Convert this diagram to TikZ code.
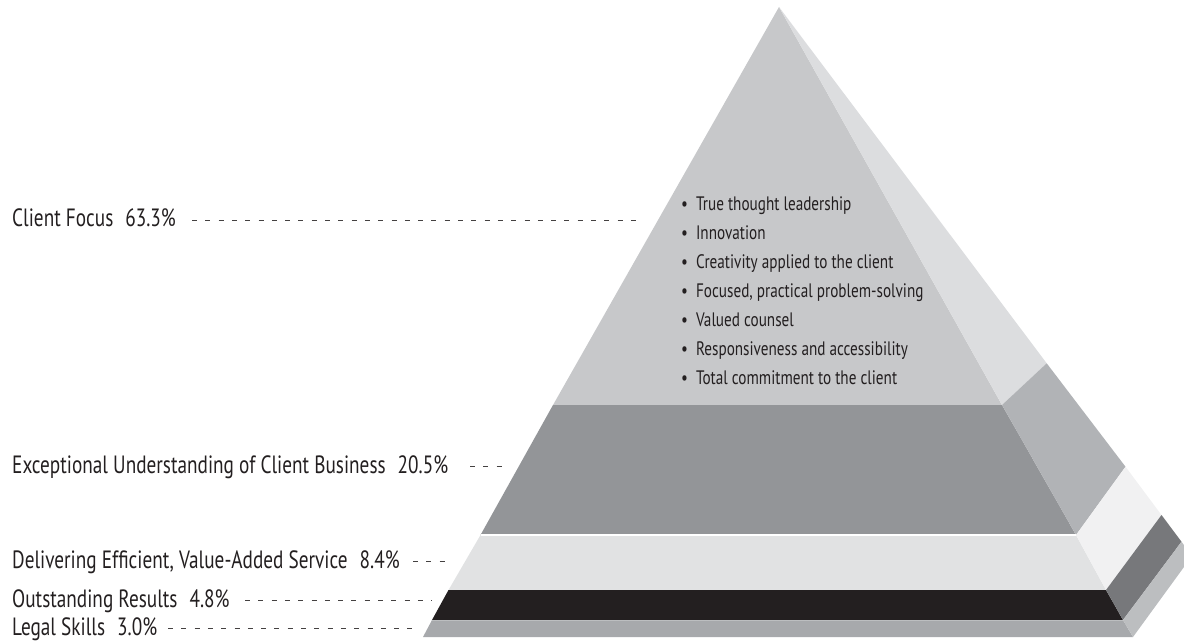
\documentclass[tikz,border=0pt]{standalone}
\usepackage{fontspec}
\setmainfont{PT Sans}
\newfontfamily\lblfont[FakeStretch=0.77]{PT Sans}
\newfontfamily\bulfont[FakeStretch=0.78]{PT Sans}
\definecolor{txt}{HTML}{231F20}
\definecolor{cfF}{HTML}{C7C8CA}
\definecolor{cfR}{HTML}{DCDDDF}
\definecolor{exF}{HTML}{939598}
\definecolor{exR}{HTML}{B1B3B6}
\definecolor{dvF}{HTML}{E1E2E3}
\definecolor{dvR}{HTML}{F1F1F2}
\definecolor{orF}{HTML}{231F20}
\definecolor{orR}{HTML}{77787B}
\definecolor{lsF}{HTML}{A7A9AC}
\definecolor{lsR}{HTML}{BCBEC0}
\tikzset{
  label/.style={anchor=base west, inner sep=0pt, text=txt, font=\lblfont\fontsize{25}{29}\selectfont},
  bullet/.style={anchor=base west, inner sep=0pt, text=txt, font=\bulfont\fontsize{19.5}{23}\selectfont},
  leader/.style={draw=txt!85, line width=0.8pt, dash pattern=on 5pt off 8.3pt},
  sep/.style={draw=white, line width=1.2pt}
}
\begin{document}
\begin{tikzpicture}[x=1pt,y=-1pt]
\useasboundingbox (0,0) rectangle (1184,642);
\clip (0,0) rectangle (1184,642);
% apex and edges
\coordinate (A) at (779,7);
\coordinate (L1) at (553,405);   \coordinate (F1) at (1002,405);   \coordinate (O1) at (1046.7,363.3);
\coordinate (L2) at (480.5,535); \coordinate (F2) at (1076,535);   \coordinate (O2) at (1125.5,466.7);
\coordinate (L3) at (448.5,590); \coordinate (F3) at (1106,590);   \coordinate (O3) at (1161.5,515);
\coordinate (L4) at (432,620);   \coordinate (F4) at (1123,620);   \coordinate (O4) at (1181.5,541.7);
\coordinate (L5) at (423,637);   \coordinate (F5) at (1133,637);   \coordinate (O5) at (1192,556);
% front faces
\fill[cfF] (A) -- (F1) -- (L1) -- cycle;
\fill[exF] (L1) -- (F1) -- (F2) -- (L2) -- cycle;
\fill[dvF] (L2) -- (F2) -- (F3) -- (L3) -- cycle;
\fill[orF] (L3) -- (F3) -- (F4) -- (L4) -- cycle;
\fill[lsF] (L4) -- (F4) -- (F5) -- (L5) -- cycle;
% right faces
\fill[cfR] (A) -- (O1) -- (F1) -- cycle;
\fill[exR] (F1) -- (O1) -- (O2) -- (F2) -- cycle;
\fill[dvR] (F2) -- (O2) -- (O3) -- (F3) -- cycle;
\fill[orR] (F3) -- (O3) -- (O4) -- (F4) -- cycle;
\fill[lsR] (F4) -- (O4) -- (O5) -- (F5) -- cycle;
% thin separators
\draw[sep] (L2) -- (F2);
\draw[sep, line width=0.8pt, draw=lsR] (L4) -- (F4);
% bullets
\node[bullet] (b1) at (681,210) {•\hspace{8pt}True thought leadership};
\node[bullet] (b2) at (681,239) {•\hspace{8pt}Innovation};
\node[bullet] (b3) at (681,268) {•\hspace{8pt}Creativity applied to the client};
\node[bullet] (b4) at (681,297) {•\hspace{8pt}Focused, practical problem-solving};
\node[bullet] (b5) at (681,326) {•\hspace{8pt}Valued counsel};
\node[bullet] (b6) at (681,355) {•\hspace{8pt}Responsiveness and accessibility};
\node[bullet] (b7) at (681,384) {•\hspace{8pt}Total commitment to the client};
% labels
\node[label] (cf) at (12,226.7) {Client Focus\hspace{12pt}63.3\%};
\node[label] (ex) at (12,473) {Exceptional Understanding of Client Business\hspace{12pt}20.5\%};
\node[label] (dv) at (12,568) {Delivering Efficient, Value-Added Service\hspace{12pt}8.4\%};
\node[label] (or) at (12,607) {Outstanding Results\hspace{12pt}4.8\%};
\node[label] (ls) at (12,635) {Legal Skills\hspace{12pt}3.0\%};
% leaders
\coordinate (cfs) at (192,220);   \coordinate (cfe) at (642,220);
\coordinate (exs) at (470,466);   \coordinate (exe) at (503,466);
\coordinate (dvs) at (413,561);   \coordinate (dve) at (447,561);
\coordinate (ors) at (245,600.5); \coordinate (ore) at (432,600.5);
\coordinate (lss) at (168,628.5); \coordinate (lse) at (415,628.5);
\draw[leader] (cfs) -- (cfe);
\draw[leader] (exs) -- (exe);
\draw[leader] (dvs) -- (dve);
\draw[leader] (ors) -- (ore);
\draw[leader] (lss) -- (lse);
\end{tikzpicture}
\end{document}
